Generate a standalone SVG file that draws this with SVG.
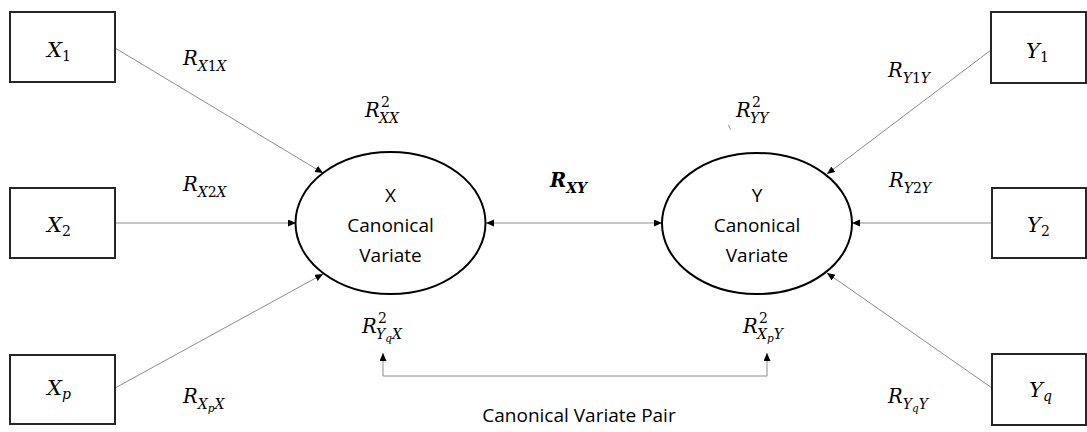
<svg xmlns="http://www.w3.org/2000/svg" width="1087" height="432" viewBox="0 0 1087 432">
<style>
.box{fill:#fff;stroke:#262626;stroke-width:2}
.ell{fill:#fff;stroke:#000;stroke-width:2}
.ln{fill:none;stroke:#8c8c8c;stroke-width:1}
.m{font-family:"DejaVu Serif","Liberation Serif",serif;font-style:italic;font-size:19.5px;fill:#000}
.bx{font-size:21px}
.s{font-size:14px}
.ss{font-size:10.5px}
.up{font-style:normal}
.b{font-weight:bold}
.t{font-family:"Open Sans","Liberation Sans",sans-serif;font-size:19px;fill:#000;text-anchor:middle}
</style>
<defs>
<marker id="ah" markerUnits="userSpaceOnUse" markerWidth="9" markerHeight="8" refX="8" refY="3.5" orient="auto-start-reverse">
<path d="M0,0 L8,3.5 L0,7 z" fill="#000"/>
</marker>
</defs>
<g id="connectors">
<line class="ln" x1="115" y1="48" x2="323" y2="173" marker-end="url(#ah)"/>
<line class="ln" x1="115" y1="223" x2="296" y2="223" marker-end="url(#ah)"/>
<line class="ln" x1="115" y1="388" x2="323" y2="274" marker-end="url(#ah)"/>
<line class="ln" x1="991" y1="50" x2="827" y2="174" marker-end="url(#ah)"/>
<line class="ln" x1="992" y1="223" x2="852" y2="223" marker-end="url(#ah)"/>
<line class="ln" x1="992" y1="388" x2="827" y2="273" marker-end="url(#ah)"/>
<line class="ln" x1="486" y1="223" x2="662" y2="223" marker-start="url(#ah)" marker-end="url(#ah)"/>
<polyline class="ln" points="383,353 383,376 767,376 767,353" marker-start="url(#ah)" marker-end="url(#ah)"/>
<line class="ln" x1="728.5" y1="125" x2="730.5" y2="129.5"/>
</g>
<g id="X1"><rect class="box" x="10" y="12" width="105" height="70"/>
<text class="m bx" x="47" y="57">X<tspan class="s up" dy="4">1</tspan></text></g>
<g id="X2"><rect class="box" x="10" y="188" width="105" height="70"/>
<text class="m bx" x="47" y="232">X<tspan class="s up" dy="4">2</tspan></text></g>
<g id="Xp"><rect class="box" x="10" y="355" width="105" height="69"/>
<text class="m bx" x="47" y="395">X<tspan class="s" dy="4">p</tspan></text></g>
<g id="Y1"><rect class="box" x="991" y="12" width="95" height="71"/>
<text class="m bx" x="1026" y="58">Y<tspan class="s up" dy="4">1</tspan></text></g>
<g id="Y2"><rect class="box" x="992" y="188" width="94" height="70"/>
<text class="m bx" x="1027" y="232">Y<tspan class="s up" dy="4">2</tspan></text></g>
<g id="Yq"><rect class="box" x="992" y="354" width="94" height="71"/>
<text class="m bx" x="1029" y="397">Y<tspan class="s" dy="4">q</tspan></text></g>
<g id="Xvar"><ellipse class="ell" cx="390.5" cy="223" rx="95" ry="71"/>
<text class="t" x="390.5" y="202">X</text>
<text class="t" x="390.5" y="232">Canonical</text>
<text class="t" x="390.5" y="262">Variate</text></g>
<g id="Yvar"><ellipse class="ell" cx="757" cy="223.5" rx="95" ry="70.5"/>
<text class="t" x="757" y="202">Y</text>
<text class="t" x="757" y="232">Canonical</text>
<text class="t" x="757" y="262">Variate</text></g>
<g id="labels">
<text class="m" x="183" y="65">R<tspan class="s" dy="6">X</tspan><tspan class="s up">1</tspan><tspan class="s">X</tspan></text>
<text class="m" x="183" y="191">R<tspan class="s" dy="6">X</tspan><tspan class="s up">2</tspan><tspan class="s">X</tspan></text>
<text class="m" x="183" y="403">R<tspan class="s" dy="6">X</tspan><tspan class="ss" dy="3">p</tspan><tspan class="s" dy="-3">X</tspan></text>
<text class="m" x="888" y="77">R<tspan class="s" dy="6">Y</tspan><tspan class="s up">1</tspan><tspan class="s">Y</tspan></text>
<text class="m" x="889" y="187">R<tspan class="s" dy="6">Y</tspan><tspan class="s up">2</tspan><tspan class="s">Y</tspan></text>
<text class="m" x="888" y="403">R<tspan class="s" dy="6">Y</tspan><tspan class="ss" dy="3">q</tspan><tspan class="s" dy="-3">Y</tspan></text>
<text class="m b" x="550" y="187">R<tspan class="s" dy="6">XY</tspan></text>
<text class="m" x="365" y="117">R</text><text class="m s up" x="381" y="107">2</text><text class="m s" x="379" y="123">XX</text>
<text class="m" x="736" y="117">R</text><text class="m s up" x="752" y="107">2</text><text class="m s" x="750" y="123">YY</text>
<text class="m" x="362" y="333">R</text><text class="m s up" x="378" y="323">2</text><text class="m s" x="376" y="339">Y<tspan class="ss" dy="3">q</tspan><tspan dy="-3">X</tspan></text>
<text class="m" x="743" y="333">R</text><text class="m s up" x="759" y="323">2</text><text class="m s" x="757" y="339">X<tspan class="ss" dy="3">p</tspan><tspan dy="-3">Y</tspan></text>
<text class="t" x="579" y="422">Canonical Variate Pair</text>
</g>
</svg>
